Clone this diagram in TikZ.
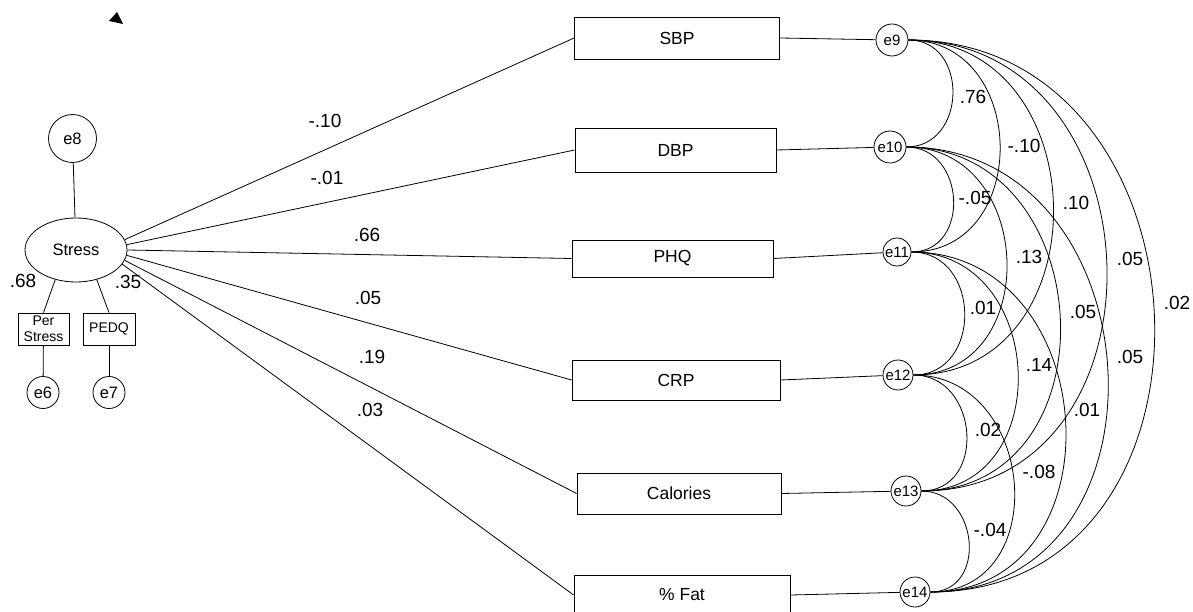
\documentclass[tikz,border=0pt]{standalone}
\usepackage{fontspec}
\setmainfont{Liberation Sans}
\usetikzlibrary{shapes.geometric}

\begin{document}
\begin{tikzpicture}[x=1pt, y=-1pt, line width=0.8pt,
    var/.style={draw, rectangle, inner sep=0pt, font=\fontsize{17.5}{20}\selectfont},
    err/.style={draw, circle, inner sep=0pt, font=\fontsize{15}{17}\selectfont},
    num/.style={inner sep=0pt, font=\fontsize{19}{22}\selectfont}]
    % frame
    \useasboundingbox (0,0) rectangle (1193,612);
    % marker
    \path[fill] (117,12) -- (109,21) -- (123,24) -- cycle;
    % latent
    \node[draw, ellipse, minimum width=102pt, minimum height=64pt, inner sep=0pt, font=\fontsize{16.5}{19}\selectfont] (stress) at (76,250) {Stress};
    \node[err, minimum size=48pt, font=\fontsize{16.5}{19}\selectfont] (e8) at (72.5,138.5) {e8};
    \path[draw] (e8) to (stress);
    % indicators
    \node[var, align=center, minimum width=51pt, minimum height=32pt, font=\fontsize{14}{16}\selectfont] (per) at (43.5,329) {Per\\Stress};
    \node[var, minimum width=52pt, minimum height=32pt, font=\fontsize{14}{16}\selectfont] (pedq) at (109,329) {PEDQ};
    \node[err, minimum size=32pt, font=\fontsize{16.5}{19}\selectfont] (e6) at (43,392.5) {e6};
    \node[err, minimum size=32pt, font=\fontsize{16.5}{19}\selectfont] (e7) at (109,392.5) {e7};
    \path[draw] (stress.235) to (per.north);
    \path[draw] (stress.-55) to (pedq.north);
    \path[draw] (per) to (e6);
    \path[draw] (pedq) to (e7);
    \node[num] (l68) at (23,281) {.68};
    \node[num] (l35) at (128,282) {.35};
    % outcomes
    \node[var, minimum width=205pt, minimum height=42pt] (sbp) at (677,38) {SBP};
    \node[var, minimum width=201pt, minimum height=44pt] (dbp) at (675.5,150) {DBP};
    \node[var, minimum width=201pt, minimum height=37pt] (phq) at (672.5,258.5) {PHQ};
    \node[var, minimum width=208pt, minimum height=40pt] (crp) at (676,380) {CRP};
    \node[var, minimum width=204pt, minimum height=41pt] (cal) at (679,493.5) {Calories};
    \node[var, minimum width=216pt, minimum height=40pt] (fat) at (682,595) {\% Fat};
    % paths
    \path[draw] (stress.12) to (sbp.west);
    \path[draw] (stress.6) to (dbp.west);
    \path[draw] (stress.0) to (phq.west);
    \path[draw] (stress.-6) to (crp.west);
    \path[draw] (stress.-12) to (cal.west);
    \path[draw] (stress.-17) to (fat.west);
    \node[num] (w1) at (325,121) {-.10};
    \node[num] (w2) at (327,178) {-.01};
    \node[num] (w3) at (367,235) {.66};
    \node[num] (w4) at (368,298) {.05};
    \node[num] (w5) at (372,357) {.19};
    \node[num] (w6) at (370,410) {.03};
    % residuals
    \node[err, minimum size=32pt] (e9) at (892,40) {e9};
    \node[err, minimum size=32pt] (e10) at (890,147) {e10};
    \node[err, minimum size=28pt] (e11) at (897,252) {e11};
    \node[err, minimum size=30pt] (e12) at (898,375) {e12};
    \node[err, minimum size=30pt] (e13) at (906,491) {e13};
    \node[err, minimum size=30pt] (e14) at (915,592) {e14};
    \path[draw] (sbp.east) to (e9);
    \path[draw] (dbp.east) to (e10);
    \path[draw] (phq.east) to (e11);
    \path[draw] (crp.east) to (e12);
    \path[draw] (cal.east) to (e13);
    \path[draw] (fat.east) to (e14);
    % covariances
    \path[draw] (e9) to[out=0, in=0, looseness=1.45] (e10);
    \path[draw] (e9) to[out=0, in=0, looseness=1.45] (e11);
    \path[draw] (e9) to[out=0, in=0, looseness=1.45] (e12);
    \path[draw] (e9) to[out=0, in=0, looseness=1.45] (e13);
    \path[draw] (e9) to[out=0, in=0, looseness=1.45] (e14);
    \path[draw] (e10) to[out=0, in=0, looseness=1.45] (e11);
    \path[draw] (e10) to[out=0, in=0, looseness=1.45] (e12);
    \path[draw] (e10) to[out=0, in=0, looseness=1.45] (e13);
    \path[draw] (e10) to[out=0, in=0, looseness=1.45] (e14);
    \path[draw] (e11) to[out=0, in=0, looseness=1.45] (e12);
    \path[draw] (e11) to[out=0, in=0, looseness=1.45] (e13);
    \path[draw] (e11) to[out=0, in=0, looseness=1.45] (e14);
    \path[draw] (e12) to[out=0, in=0, looseness=1.45] (e13);
    \path[draw] (e12) to[out=0, in=0, looseness=1.45] (e14);
    \path[draw] (e13) to[out=0, in=0, looseness=1.45] (e14);
    \node[num] (c9t10) at (973,97) {.76};
    \node[num] (c9t11) at (1024,146) {-.10};
    \node[num] (c9t12) at (1076,203) {.10};
    \node[num] (c9t13) at (1130,259) {.05};
    \node[num] (c9t14) at (1177,303) {.02};
    \node[num] (c10t11) at (975,198) {-.05};
    \node[num] (c10t12) at (1029,257) {.13};
    \node[num] (c10t13) at (1083,312) {.05};
    \node[num] (c10t14) at (1130,357) {.05};
    \node[num] (c11t12) at (983,308) {.01};
    \node[num] (c11t13) at (1039,365) {.14};
    \node[num] (c11t14) at (1087,410) {.01};
    \node[num] (c12t13) at (988,430) {.02};
    \node[num] (c12t14) at (1039,472) {-.08};
    \node[num] (c13t14) at (990,530) {-.04};
\end{tikzpicture}
\end{document}
